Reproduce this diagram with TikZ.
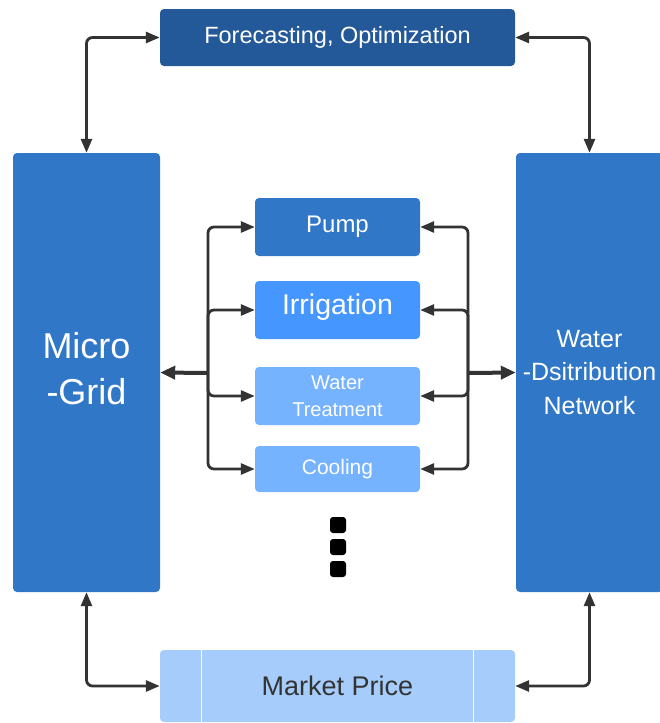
\documentclass[tikz,border=0pt]{standalone}
\usepackage{fontspec}
\setmainfont{Liberation Sans}
\usetikzlibrary{arrows.meta}

\definecolor{optblue}{RGB}{36,89,153}
\definecolor{gridblue}{RGB}{48,119,200}
\definecolor{irrblue}{RGB}{69,150,255}
\definecolor{loadblue}{RGB}{117,178,255}
\definecolor{priceblue}{RGB}{165,204,250}
\definecolor{linkgray}{RGB}{51,51,51}

\tikzset{
    block/.style={rectangle, rounded corners=4pt, text=white, align=center, inner sep=0pt},
    sidebox/.style={block, fill=gridblue, minimum width=147pt, minimum height=439pt},
    loadbox/.style={block, minimum width=165pt, minimum height=58pt},
    link/.style={draw=linkgray, line width=2.8pt, rounded corners=6pt,
        arrows={-Triangle[length=14pt 0,width=11pt 0]}},
    biglink/.style={link, line width=4pt, arrows={-Triangle[length=15pt 0,width=13pt 0]}},
    twolink/.style={link, arrows={Triangle[length=14pt 0,width=11pt 0]-Triangle[length=14pt 0,width=11pt 0]}},
}

\begin{document}
\begin{tikzpicture}[x=1pt, y=-1pt]
    \useasboundingbox (0,0) rectangle (660,723);

    \node[block, fill=optblue, minimum width=355pt, minimum height=57pt,
        font=\fontsize{23.5}{28}\selectfont] (fore) at (337.5,37.5) {Forecasting, Optimization};

    \node[sidebox, font=\fontsize{36}{46}\selectfont] (mg) at (86.5,372.5)
        {\raisebox{4pt}{\begin{tabular}{@{}c@{}}Micro\\-Grid\end{tabular}}};
    \node[sidebox, font=\fontsize{25}{33.5}\selectfont] (wdn) at (589.5,372.5) {Water\\-Dsitribution\\Network};

    \node[loadbox, fill=gridblue, font=\fontsize{24}{28}\selectfont] (pump) at (337.5,227) {Pump};
    \node[loadbox, fill=irrblue, font=\fontsize{28.5}{32}\selectfont] (irr) at (337.5,310) {\raisebox{12pt}{Irrigation}};
    \node[loadbox, fill=loadblue, font=\fontsize{20}{27}\selectfont] (wt) at (337.5,396) {Water\\Treatment};
    \node[loadbox, fill=loadblue, minimum height=46pt, font=\fontsize{21}{25}\selectfont] (cool) at (337.5,469) {Cooling};

    \node[block, fill=priceblue, text=linkgray, minimum width=355pt, minimum height=72pt,
        font=\fontsize{27}{32}\selectfont] (mp) at (337.5,686) {Market Price};
    \draw[white, line width=1pt] ([xshift=42pt]mp.north west) -- ([xshift=42pt]mp.south west);
    \draw[white, line width=1pt] ([xshift=-42pt]mp.north east) -- ([xshift=-42pt]mp.south east);

    \foreach \i/\y in {1/525,2/547,3/569}
        \node[fill=black, rounded corners=3pt, minimum size=16pt, inner sep=0pt] (dot\i) at (338,\y) {};

    \coordinate (jl) at (208,373);
    \coordinate (jr) at (468,373);

    \draw[biglink] (jl) -- (mg.east);
    \foreach \n in {pump,irr,wt,cool}
        \draw[link] (jl) |- (\n.west);

    \draw[biglink] (jr) -- (wdn.west);
    \foreach \n in {pump,irr,wt,cool}
        \draw[link] (jr) |- (\n.east);

    \draw[twolink] (mg.north) |- (fore.west);
    \draw[twolink] (fore.east) -| (wdn.north);
    \draw[twolink] (mg.south) |- (mp.west);
    \draw[twolink] (mp.east) -| (wdn.south);
\end{tikzpicture}
\end{document}
